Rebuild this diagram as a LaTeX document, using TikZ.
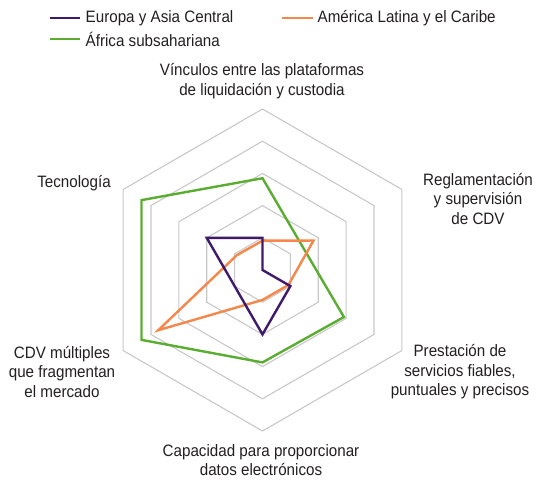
\documentclass[tikz,border=0pt]{standalone}
\usepackage{fontspec}
\setmainfont{Liberation Sans}[FakeStretch=0.92]
\usetikzlibrary{positioning}
\definecolor{europa}{HTML}{3F1A6B}
\definecolor{america}{HTML}{F5874A}
\definecolor{africa}{HTML}{5BAD32}
\definecolor{rejilla}{HTML}{C8C8C8}
\definecolor{texto}{HTML}{231F20}
\begin{document}
\begin{tikzpicture}[
		x=1pt, y=1pt,
		every node/.style={font=\fontsize{16.5}{19.5}\selectfont, text=texto, inner sep=0pt},
		etiqueta/.style={align=center},
		anillo/.style={draw=rejilla, line width=1.1pt, line join=miter},
		serie/.style={line width=2.4pt, line join=miter},
		muestra/.style={line width=2.4pt}
	]
	\useasboundingbox (-262.5,-212) rectangle (275.5,270);
	% Anillos de la red
	\foreach \r in {1,...,5}
		\draw[anillo] (90:\r*32.2) -- (30:\r*32.2) -- (-30:\r*32.2) -- (-90:\r*32.2)
			-- (210:\r*32.2) -- (150:\r*32.2) -- cycle;
	% Series
	\draw[serie, africa] (90:2.85*32.2) -- (30:1.44*32.2) -- (-30:2.92*32.2)
		-- (-90:2.87*32.2) -- (210:4.34*32.2) -- (150:4.34*32.2) -- cycle;
	\draw[serie, america] (90:0.91*32.2) -- (30:1.83*32.2) -- (-30:0.93*32.2)
		-- (-90:0.93*32.2) -- (210:3.74*32.2) -- (150:0.92*32.2) -- cycle;
	\draw[serie, europa] (90:1*32.2) -- (0,0) -- (-30:1*32.2)
		-- (-90:2*32.2) -- (210:1*32.2) -- (150:2*32.2) -- cycle;
	% Ejes
	\node[etiqueta] (vinculos) at (-0.5,189) {Vínculos entre las plataformas\\de liquidación y custodia};
	\node[etiqueta] (reglamento) at (215.5,71) {Reglamentación\\y supervisión\\de CDV};
	\node[etiqueta] (prestacion) at (197.5,-102) {Prestación de\\servicios fiables,\\puntuales y precisos};
	\node[etiqueta] (capacidad) at (-1.5,-190) {Capacidad para proporcionar\\datos electrónicos};
	\node[etiqueta] (multiples) at (-200.5,-102) {CDV múltiples\\que fragmentan\\el mercado};
	\node[etiqueta] (tecnologia) at (-188.5,87) {Tecnología};
	% Leyenda
	\node[anchor=west] (leyeuropa) at (-177,252) {Europa y Asia Central};
	\node[anchor=west] (leyamerica) at (55,252) {América Latina y el Caribe};
	\node[anchor=west] (leyafrica) at (-177,231) {África subsahariana};
	\coordinate[left=5pt of leyeuropa.west] (fineuropa);
	\coordinate[left=30pt of fineuropa] (inieuropa);
	\coordinate[left=5pt of leyamerica.west] (finamerica);
	\coordinate[left=30pt of finamerica] (iniamerica);
	\coordinate[left=5pt of leyafrica.west] (finafrica);
	\coordinate[left=30pt of finafrica] (iniafrica);
	\draw[muestra, europa] (inieuropa) -- (fineuropa);
	\draw[muestra, america] (iniamerica) -- (finamerica);
	\draw[muestra, africa] (iniafrica) -- (finafrica);
\end{tikzpicture}
\end{document}
